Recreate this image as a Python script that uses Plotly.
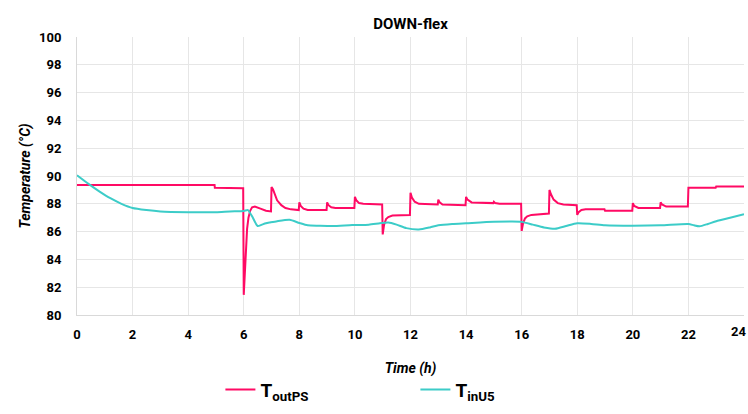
import plotly.graph_objects as go

t_out = [0, 4.95, 4.96, 5.98, 6.0, 6.04, 6.08, 6.12, 6.17, 6.23, 6.3, 6.4, 6.6, 6.8, 6.98,
         7.0, 7.05, 7.12, 7.2, 7.35, 7.5, 7.7, 7.98, 8.0, 8.05, 8.15, 8.3, 8.98,
         9.0, 9.05, 9.15, 9.3, 9.98, 10.0, 10.05, 10.15, 10.3, 10.98,
         11.0, 11.05, 11.12, 11.2, 11.35, 11.98, 12.0, 12.05, 12.15, 12.3, 12.98,
         13.0, 13.05, 13.15, 13.98, 14.0, 14.05, 14.2, 14.98, 15.0, 15.05, 15.2, 15.98,
         16.0, 16.05, 16.12, 16.2, 16.35, 16.98, 17.0, 17.05, 17.15, 17.3, 17.5, 17.98,
         18.0, 18.05, 18.15, 18.3, 18.98, 19.0, 19.98, 20.0, 20.05, 20.2, 20.98,
         21.0, 21.05, 21.2, 21.98, 22.0, 22.98, 23.0, 24.0]
T_out = [89.35, 89.35, 89.15, 89.12, 81.45, 83.3, 85.0, 86.2, 87.0, 87.5, 87.75, 87.8, 87.65, 87.5, 87.45,
         89.2, 89.05, 88.6, 88.25, 87.9, 87.7, 87.6, 87.55, 88.1, 87.85, 87.65, 87.55, 87.55,
         88.1, 87.9, 87.75, 87.7, 87.7, 88.5, 88.25, 88.05, 88.0, 87.95,
         85.8, 86.5, 86.9, 87.05, 87.15, 87.2, 88.8, 88.45, 88.15, 88.0, 87.95,
         88.3, 88.1, 87.95, 87.9, 88.5, 88.3, 88.1, 88.05, 88.15, 88.05, 88.0, 88.0,
         86.05, 86.6, 86.95, 87.1, 87.2, 87.3, 89.0, 88.7, 88.3, 88.05, 87.95, 87.9,
         87.2, 87.4, 87.55, 87.6, 87.6, 87.5, 87.5, 88.05, 87.85, 87.7, 87.7,
         88.1, 87.95, 87.8, 87.8, 89.15, 89.15, 89.25, 89.25]

t_in = [0, 0.4, 0.8, 1.2, 1.6, 2.0, 2.5, 3.0, 4.0, 5.0, 5.5, 6.0, 6.15, 6.3, 6.5, 6.65, 6.8,
        6.95, 7.2, 7.65, 8.0, 8.3, 8.7, 9.2, 9.9, 10.5, 10.9, 11.2, 11.5, 11.85, 12.3,
        12.7, 13.0, 13.5, 14.0, 15.0, 16.0, 16.4, 16.8, 17.2, 17.6, 18.0, 18.5, 19.0,
        20.0, 21.0, 22.0, 22.2, 22.4, 22.7, 23.0, 23.5, 24.0]
T_in = [90.05, 89.45, 88.9, 88.4, 88.0, 87.7, 87.55, 87.45, 87.4, 87.4, 87.45, 87.48, 87.55, 87.1, 86.4, 86.5, 86.6,
        86.66, 86.75, 86.85, 86.62, 86.45, 86.42, 86.4, 86.47, 86.5, 86.6, 86.65, 86.5, 86.25, 86.15,
        86.3, 86.45, 86.55, 86.6, 86.7, 86.7, 86.5, 86.3, 86.2, 86.4, 86.6, 86.55, 86.45,
        86.42, 86.45, 86.55, 86.45, 86.38, 86.55, 86.75, 87.0, 87.25]

x_ticks = [0, 2, 4, 6, 8, 10, 12, 14, 16, 18, 20, 22, 24]
y_ticks = [80, 82, 84, 86, 88, 90, 92, 94, 96, 98, 100]

FONT = "Roboto, Liberation Sans, sans-serif"
TICKFONT = dict(family=FONT, size=13, weight="bold", color="#000")

fig = go.Figure()
fig.add_trace(go.Scatter(x=t_out, y=T_out, mode="lines", name="T<sub>outPS</sub>",
                         line=dict(color="#FF0A64", width=2)))
fig.add_trace(go.Scatter(x=t_in, y=T_in, mode="lines", name="T<sub>inU5</sub>",
                         line=dict(color="#3CCCC8", width=2, shape="spline", smoothing=0.6)))

# last x tick label is kept inside the figure (as in the reference)
x_ticktext = [str(v) for v in x_ticks[:-1]] + [""]
fig.add_annotation(x=x_ticks[-1], xref="x", y=0, yref="paper", yanchor="top", xanchor="right",
                   xshift=4, yshift=-7, text=str(x_ticks[-1]), showarrow=False, font=TICKFONT)

fig.update_layout(
    width=748, height=414,
    margin=dict(l=77, r=4, t=37, b=99, autoexpand=False),
    paper_bgcolor="white", plot_bgcolor="white",
    font=dict(family=FONT, color="#000000"),
    title=dict(text="DOWN-flex", x=0.5, xref="paper", xanchor="center", y=0.955, yref="container",
               font=dict(family=FONT, size=15, weight="bold", color="#000")),
    showlegend=True,
    legend=dict(orientation="h", x=0.215, xanchor="left", y=-0.2, yanchor="top",
                font=dict(family=FONT, size=19, weight="bold", color="#000"),
                entrywidth=150, entrywidthmode="pixels", bgcolor="rgba(0,0,0,0)"),
)
fig.update_xaxes(range=[0, 24], tickmode="array", tickvals=x_ticks, ticktext=x_ticktext,
                 showgrid=True, gridcolor="#E6E6E6", gridwidth=1, automargin=False,
                 showline=True, linecolor="#D9D9D9", linewidth=1, zeroline=False,
                 tickfont=TICKFONT,
                 ticks="", ticklabelstandoff=7,
                 title=dict(text="Time (h)", standoff=22,
                            font=dict(family=FONT, size=14, weight="bold", style="italic", color="#000")))
fig.update_yaxes(range=[80, 100], tickmode="array", tickvals=y_ticks, ticktext=[str(v) for v in y_ticks],
                 showgrid=True, gridcolor="#E6E6E6", gridwidth=1, automargin=False,
                 showline=True, linecolor="#D9D9D9", linewidth=1, zeroline=False,
                 tickfont=TICKFONT,
                 ticks="", ticklabelstandoff=12, ticklabeloverflow="allow",
                 title=dict(text="Temperature (°C)", standoff=5,
                            font=dict(family=FONT, size=14, weight="bold", style="italic", color="#000")))

fig.write_html("out.html")
